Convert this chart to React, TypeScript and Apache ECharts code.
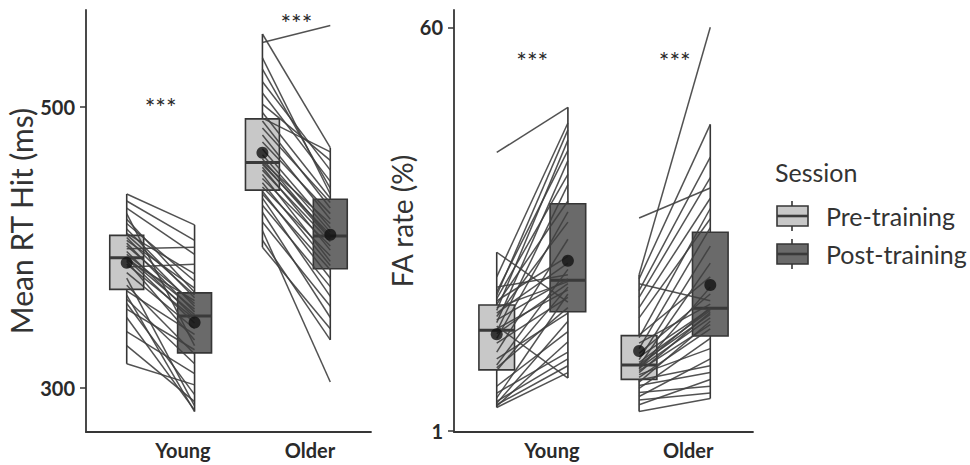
import React, { useEffect, useRef } from "react";
import * as echarts from "echarts";

const groups = ["Young", "Older"];
const sessions = ["Pre-training", "Post-training"];

// Mean RT Hit (ms): one value per participant, same order in pre and post
const rtYoungPre = [317, 330, 340, 350, 356, 360, 363, 366, 369, 373, 378, 382, 386, 388, 390, 391, 392, 393, 395, 397, 399, 401, 403, 405, 407, 409, 410, 413, 417, 420, 424, 428, 433, 438];
const rtYoungPost = [302, 290, 310, 284, 327, 295, 317, 283, 338, 324, 287, 342, 388, 349, 334, 362, 346, 352, 356, 350, 400, 360, 354, 371, 358, 366, 381, 364, 376, 368, 330, 395, 405, 416];
const rtOlderPre = [400, 405, 412, 418, 425, 430, 435, 438, 440, 443, 446, 449, 452, 455, 457, 459, 460, 461, 463, 466, 470, 475, 480, 485, 490, 492, 496, 502, 510, 518, 527, 535, 546, 552];
const rtOlderPost = [342, 334, 304, 358, 350, 372, 365, 384, 378, 394, 387, 401, 390, 404, 398, 409, 406, 417, 407, 411, 414, 424, 420, 432, 428, 468, 435, 462, 447, 455, 442, 438, 558, 471];

// FA rate (%)
const faYoungPre = [4.4, 4.6, 4.8, 5.0, 5.3, 5.8, 6.5, 7.5, 9.8, 10.2, 10.6, 11.5, 12.5, 13.8, 14.5, 15.2, 15.5, 15.9, 16.3, 16.8, 17.2, 17.7, 18.2, 18.6, 19.0, 19.5, 20.0, 20.3, 20.8, 21.3, 22.0, 23.5, 27.1, 41.7];
const faYoungPost = [9.5, 14.0, 10.5, 17.0, 11.5, 21.0, 12.5, 15.5, 22.0, 19.0, 24.6, 18.2, 29.0, 20.5, 33.0, 22.5, 37.0, 21.6, 8.7, 40.5, 23.2, 31.5, 25.5, 43.5, 22.8, 34.6, 26.5, 38.5, 45.0, 42.0, 23.8, 46.0, 19.8, 48.3];
const faOlderPre = [3.8, 4.8, 5.5, 6.0, 6.6, 7.2, 7.6, 8.1, 8.4, 8.8, 9.2, 9.5, 9.8, 10.0, 10.2, 10.4, 10.5, 10.7, 11.0, 11.4, 11.8, 12.3, 13.0, 13.8, 14.6, 15.0, 17.5, 19.0, 20.5, 21.5, 22.5, 23.2, 23.8, 32.1];
const faOlderPost = [5.7, 8.5, 6.5, 11.5, 7.5, 14.5, 9.5, 17.0, 10.5, 15.9, 13.0, 18.3, 16.5, 22.0, 17.5, 19.0, 25.5, 18.0, 18.6, 28.0, 18.8, 21.0, 30.7, 19.5, 33.5, 23.5, 32.0, 35.0, 38.0, 41.0, 20.0, 45.8, 60.0, 36.5];

const rtTicks = [300, 500];
const faTicks = [1, 60];
const rtSigY = [500, 560];
const faSigY = [55, 55];
const sigText = ["***", "***"];

// ---- styling / layout ----
const FONT = 'Lato, "Noto Sans", sans-serif';
const DODGE = 0.25;
const BOX_W = 0.25;
const fills = ["#c8c8c8", "#6a6a6a"];
const STROKE = "#363636";
const TEXT = "#2a2a2a";

function quantile(s: number[], p: number) {
  const h = (s.length - 1) * p;
  const lo = Math.floor(h);
  const hi = Math.ceil(h);
  return s[lo] + (h - lo) * (s[hi] - s[lo]);
}

function boxStats(values: number[]) {
  const s = [...values].sort((a, b) => a - b);
  const q1 = quantile(s, 0.25);
  const med = quantile(s, 0.5);
  const q3 = quantile(s, 0.75);
  const iqr = q3 - q1;
  const lo = Math.min(...s.filter((v) => v >= q1 - 1.5 * iqr));
  const hi = Math.max(...s.filter((v) => v <= q3 + 1.5 * iqr));
  const mean = s.reduce((a, b) => a + b, 0) / s.length;
  return { q1, med, q3, lo, hi, mean };
}

function buildPanel(gi: number, data: number[][][], sigY: number[]) {
  const boxData: number[][] = [];
  const pairData: number[][] = [];
  const meanData: number[][] = [];
  const sigData: (number | string)[][] = [];
  data.forEach(([pre, post], g) => {
    [pre, post].forEach((vals, s) => {
      const x = g + 1 + (s === 0 ? -DODGE : DODGE);
      const st = boxStats(vals);
      boxData.push([x, st.q1, st.med, st.q3, st.lo, st.hi, s]);
      meanData.push([x, st.mean]);
    });
    pre.forEach((v, i) => pairData.push([g + 1 - DODGE, v, g + 1 + DODGE, post[i]]));
    sigData.push([g + 1, sigY[g], sigText[g]]);
  });

  const boxes = {
    type: "custom",
    xAxisIndex: gi,
    yAxisIndex: gi,
    z: 1,
    data: boxData,
    encode: { x: 0, y: [1, 2, 3, 4, 5] },
    renderItem: (params: any, api: any) => {
      const x = api.value(0);
      const s = api.value(6);
      const tl = api.coord([x - BOX_W / 2, api.value(3)]);
      const br = api.coord([x + BOX_W / 2, api.value(1)]);
      const md = api.coord([x, api.value(2)]);
      const lo = api.coord([x, api.value(4)]);
      const hi = api.coord([x, api.value(5)]);
      return {
        type: "group",
        children: [
          { type: "line", shape: { x1: md[0], y1: hi[1], x2: md[0], y2: tl[1] }, style: { stroke: STROKE, lineWidth: 1.6 } },
          { type: "line", shape: { x1: md[0], y1: br[1], x2: md[0], y2: lo[1] }, style: { stroke: STROKE, lineWidth: 1.6 } },
          { type: "rect", shape: { x: tl[0], y: tl[1], width: br[0] - tl[0], height: br[1] - tl[1] }, style: { fill: fills[s], stroke: STROKE, lineWidth: 1.6 } },
          { type: "line", shape: { x1: tl[0], y1: md[1], x2: br[0], y2: md[1] }, style: { stroke: "#3a3a3a", lineWidth: 3 } },
        ],
      };
    },
  };

  const pairs = {
    type: "custom",
    xAxisIndex: gi,
    yAxisIndex: gi,
    z: 2,
    data: pairData,
    encode: { x: [0, 2], y: [1, 3] },
    renderItem: (params: any, api: any) => {
      const a = api.coord([api.value(0), api.value(1)]);
      const b = api.coord([api.value(2), api.value(3)]);
      return {
        type: "line",
        shape: { x1: a[0], y1: a[1], x2: b[0], y2: b[1] },
        style: { stroke: "#3f3f3f", lineWidth: 1.5, opacity: 0.9 },
      };
    },
  };

  const means = {
    type: "scatter",
    xAxisIndex: gi,
    yAxisIndex: gi,
    z: 3,
    symbol: "circle",
    symbolSize: 12,
    itemStyle: { color: "#111111" },
    data: meanData,
  };

  const sig = {
    type: "custom",
    xAxisIndex: gi,
    yAxisIndex: gi,
    z: 3,
    data: sigData,
    encode: { x: 0, y: 1 },
    renderItem: (params: any, api: any) => {
      const p = api.coord([api.value(0), api.value(1)]);
      return {
        type: "text",
        x: p[0],
        y: p[1],
        style: { text: sigData[params.dataIndex][2], font: `25px ${FONT}`, fill: TEXT, align: "center", verticalAlign: "middle" },
      };
    },
  };

  return [boxes, pairs, means, sig];
}

function xAxisCfg(gi: number, labelShift: number[]) {
  return {
    type: "value",
    gridIndex: gi,
    min: 0.45,
    max: 2.55,
    axisLine: { show: true, lineStyle: { color: STROKE, width: 1.8 } },
    axisTick: { show: false },
    splitLine: { show: false },
    axisLabel: {
      customValues: groups.map((_, i) => i + 1 + labelShift[i]),
      formatter: (v: number) => groups[Math.round(v) - 1] ?? "",
      fontFamily: FONT,
      fontWeight: "bold",
      fontSize: 20,
      color: TEXT,
      margin: 8,
    },
  };
}

function yAxisCfg(gi: number, min: number, max: number, ticks: number[], name: string, nameGap: number, nameSize: number) {
  return {
    type: "value",
    gridIndex: gi,
    min,
    max,
    name,
    nameLocation: "middle",
    nameGap,
    nameTextStyle: { fontFamily: FONT, fontSize: nameSize, color: "#333" },
    axisLine: { show: true, lineStyle: { color: STROKE, width: 1.8 } },
    axisTick: { show: true, customValues: ticks, length: 6, lineStyle: { color: STROKE, width: 1.5 } },
    splitLine: { show: false },
    axisLabel: {
      customValues: ticks,
      fontFamily: FONT,
      fontWeight: "bold",
      fontSize: 20,
      color: TEXT,
      margin: 11,
    },
  };
}

function legendGraphics() {
  const els: any[] = [
    { type: "text", x: 775, y: 172, style: { text: "Session", font: `25px ${FONT}`, fill: "#333", verticalAlign: "middle" } },
  ];
  sessions.forEach((name, i) => {
    const cy = 216 + i * 38;
    els.push(
      { type: "line", shape: { x1: 792, y1: cy - 15, x2: 792, y2: cy + 15 }, style: { stroke: STROKE, lineWidth: 1.6 } },
      { type: "rect", shape: { x: 777, y: cy - 10, width: 31, height: 20 }, style: { fill: fills[i], stroke: STROKE, lineWidth: 1.6 } },
      { type: "line", shape: { x1: 777, y1: cy, x2: 808, y2: cy }, style: { stroke: "#3a3a3a", lineWidth: 2.6 } },
      { type: "text", x: 826, y: cy, style: { text: name, font: `25px ${FONT}`, fill: "#333", verticalAlign: "middle" } }
    );
  });
  return els;
}

export default function App() {
  const ref = useRef<HTMLDivElement>(null);
  useEffect(() => {
    if (!ref.current) return;
    const chart = echarts.init(ref.current, undefined, { renderer: "svg" });
    const option = {
      animation: false,
      backgroundColor: "#ffffff",
      grid: [
        { left: 86, top: 10, width: 285, height: 422 },
        { left: 454, top: 10, width: 299, height: 422 },
      ],
      xAxis: [xAxisCfg(0, [0.164, 0.1]), xAxisCfg(1, [0.137, 0.095])],
      yAxis: [
        yAxisCfg(0, 268.4, 569.1, rtTicks, "Mean RT Hit (ms)", 47, 30),
        yAxisCfg(1, 0.81, 62.53, faTicks, "FA rate (%)", 36, 28),
      ],
      series: [
        ...buildPanel(0, [[rtYoungPre, rtYoungPost], [rtOlderPre, rtOlderPost]], rtSigY),
        ...buildPanel(1, [[faYoungPre, faYoungPost], [faOlderPre, faOlderPost]], faSigY),
      ],
      graphic: legendGraphics(),
    };
    chart.setOption(option as any);
    return () => chart.dispose();
  }, []);
  return <div ref={ref} style={{ position: "fixed", left: 0, top: 0, width: 970, height: 465, background: "#fff" }} />;
}
